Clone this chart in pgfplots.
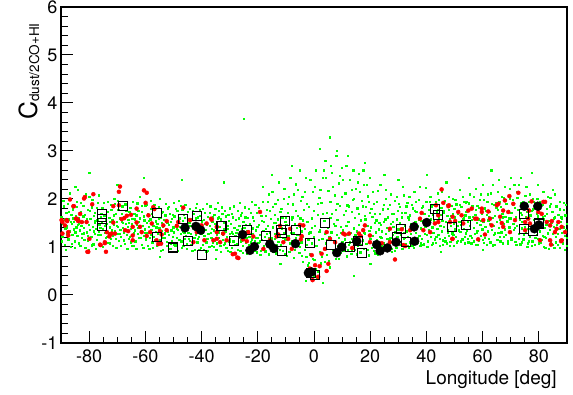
\documentclass[border=0pt]{standalone}
\usepackage{pgfplots}
\pgfplotsset{compat=1.18}
\usepackage{fontspec}
\setmainfont{TeX Gyre Heros}
\begin{document}
\begin{tikzpicture}
\useasboundingbox (-61bp,-52bp) rectangle (512bp,343bp);
\begin{axis}[
 scale only axis, width=506bp, height=336bp,
 at={(0,0)}, anchor=south west,
 xmin=-90, xmax=90, ymin=-1, ymax=6,
 xtick={-80,-60,...,80}, ytick={-1,0,...,6},
 minor x tick num=3, minor y tick num=4,
 tick align=inside, tick pos=left,
 major tick length=12bp, minor tick length=6.5bp,
 axis line style={line width=1.6bp},
 every tick/.style={black, line width=1bp},
 tick label style={font=\fontsize{18bp}{21bp}\selectfont},
 /pgf/number format/assume math mode=true,
 xticklabel style={yshift=-3bp},
 xlabel={Longitude [deg]},
 every axis x label/.style={at={(axis description cs:0.98,-0.083)}, anchor=north east, inner sep=0pt, font=\fontsize{19bp}{22bp}\selectfont},
 ylabel={\fontsize{25bp}{28bp}\selectfont C\fontsize{13.5bp}{15bp}\selectfont\raisebox{-2bp}{dust/2CO+HI}},
 every axis y label/.style={at={(axis description cs:-0.047,0.952)}, rotate=90, anchor=base east, inner sep=0pt},
]
% diffuse component (green)
\addplot[only marks, mark=square*, mark size=0.65bp, color=green, mark options={draw=none}] coordinates {
(-89.9,1.62)(-89.6,1.21)(-89.3,1.48)(-89.0,1.85)(-88.8,1.05)(-88.5,1.39)(-88.3,1.55)(-88.1,1.72)(-88.0,1.30)
(-87.9,1.44)(-87.7,1.90)(-87.4,1.16)(-87.2,1.58)(-86.9,1.33)(-86.6,1.01)(-86.4,1.67)(-86.2,1.49)(-86.0,1.26)
(-85.9,1.79)(-85.6,1.37)(-85.4,1.53)(-85.1,1.12)(-84.8,1.64)(-84.6,1.41)(-84.4,1.95)(-84.2,1.23)(-84.0,1.47)
(-83.8,1.08)(-83.6,1.60)(-83.3,1.35)(-83.1,1.74)(-82.8,1.45)(-82.6,1.19)(-82.3,1.52)(-82.1,1.86)(-82.0,1.29)
(-81.9,1.40)(-81.6,1.68)(-81.4,0.98)(-81.2,1.55)(-80.9,1.31)(-80.6,1.77)(-80.4,1.14)(-80.2,1.46)(-80.0,2.05)
(-79.8,1.36)(-79.6,1.59)(-79.3,1.22)(-79.1,1.83)(-78.8,1.43)(-78.5,1.06)(-78.3,1.65)(-78.1,1.50)(-78.0,1.28)
(-77.9,1.71)(-77.6,1.38)(-77.3,1.15)(-77.1,1.56)(-76.9,1.92)(-76.6,1.33)(-76.4,1.47)(-76.2,1.02)(-76.0,1.62)
(-75.8,1.25)(-75.5,1.53)(-75.3,1.81)(-75.1,1.37)(-74.8,1.11)(-74.6,1.66)(-74.3,1.44)(-74.1,1.20)(-74.0,1.58)
(-73.9,1.49)(-73.6,1.09)(-73.4,1.73)(-73.2,1.30)(-72.9,1.61)(-72.7,1.41)(-72.4,1.88)(-72.2,1.18)(-72.0,1.35)
(-71.8,1.57)(-71.6,1.24)(-71.3,1.46)(-71.1,2.01)(-70.8,1.34)(-70.6,1.69)(-70.4,0.99)(-70.2,1.52)(-70.0,1.27)
(-69.9,1.43)(-69.7,1.78)(-69.4,1.13)(-69.2,1.60)(-68.9,1.36)(-68.7,1.21)(-68.4,1.54)(-68.2,1.85)(-68.0,1.40)
(-67.8,1.31)(-67.5,1.63)(-67.3,1.07)(-67.1,1.48)(-66.8,1.75)(-66.6,1.26)(-66.3,1.42)(-66.1,1.57)(-66.0,1.17)
(-65.9,1.50)(-65.6,1.22)(-65.4,1.82)(-65.2,1.38)(-64.9,1.03)(-64.7,1.59)(-64.4,1.45)(-64.2,1.29)(-64.0,1.70)
(-63.8,1.35)(-63.6,1.12)(-63.3,1.66)(-63.1,1.47)(-62.9,1.91)(-62.6,1.28)(-62.4,1.53)(-62.2,1.19)(-62.0,1.41)
(-61.9,1.60)(-61.7,1.33)(-61.4,1.05)(-61.2,1.74)(-60.9,1.44)(-60.7,1.24)(-60.4,1.56)(-60.2,1.37)(-60.0,1.87)
(-59.8,1.16)(-59.6,1.51)(-59.3,1.30)(-59.1,1.69)(-58.8,1.42)(-58.6,0.97)(-58.3,1.58)(-58.1,1.25)(-58.0,1.80)
(-57.9,1.36)(-57.6,1.10)(-57.4,1.63)(-57.2,1.45)(-56.9,1.21)(-56.6,1.77)(-56.4,1.32)(-56.2,1.54)(-56.0,1.02)
(-55.8,1.48)(-55.5,1.27)(-55.3,1.84)(-55.1,1.39)(-54.8,1.14)(-54.6,1.61)(-54.4,1.34)(-54.1,1.72)(-54.0,1.19)
(-53.9,1.43)(-53.7,0.94)(-53.4,1.57)(-53.2,1.29)(-52.9,1.66)(-52.7,1.38)(-52.4,1.11)(-52.2,1.50)(-52.0,1.81)
(-51.8,1.25)(-51.6,1.46)(-51.3,1.70)(-51.1,1.08)(-50.8,1.35)(-50.6,1.59)(-50.3,1.22)(-50.1,1.41)(-50.0,1.93)
(-49.9,1.31)(-49.7,1.64)(-49.4,1.04)(-49.2,1.47)(-48.9,1.20)(-48.7,1.75)(-48.4,1.36)(-48.2,1.53)(-48.0,1.15)
(-47.8,1.42)(-47.5,1.28)(-47.3,1.86)(-47.1,0.99)(-46.8,1.55)(-46.6,1.33)(-46.3,1.67)(-46.1,1.18)(-46.0,1.45)
(-45.9,1.61)(-45.6,1.24)(-45.4,1.39)(-45.2,1.07)(-44.9,1.73)(-44.7,1.30)(-44.4,1.50)(-44.2,1.13)(-44.0,1.44)
(-43.8,1.27)(-43.6,1.58)(-43.3,0.92)(-43.1,1.41)(-42.9,1.69)(-42.6,1.19)(-42.4,1.36)(-42.2,1.82)(-42.0,1.25)
(-41.9,1.48)(-41.6,1.10)(-41.4,1.62)(-41.2,1.34)(-40.9,1.21)(-40.7,1.77)(-40.4,1.40)(-40.2,0.98)(-40.0,1.54)
(-39.8,1.32)(-39.6,1.05)(-39.3,1.57)(-39.1,1.23)(-38.8,1.71)(-38.5,1.36)(-38.3,0.90)(-38.1,1.46)(-38.0,1.17)
(-37.9,1.63)(-37.6,1.28)(-37.3,1.01)(-37.1,1.44)(-36.9,1.85)(-36.6,1.19)(-36.4,1.38)(-36.2,1.53)(-36.0,1.09)
(-35.8,1.35)(-35.5,1.67)(-35.3,1.14)(-35.1,1.49)(-34.8,0.95)(-34.6,1.26)(-34.3,1.60)(-34.1,1.31)(-34.0,1.76)
(-33.9,1.20)(-33.7,1.42)(-33.4,1.03)(-33.2,1.58)(-32.9,1.29)(-32.7,1.70)(-32.4,1.15)(-32.2,1.37)(-32.0,1.51)
(-31.8,1.08)(-31.6,1.33)(-31.3,1.64)(-31.1,1.22)(-30.8,1.45)(-30.6,0.93)(-30.3,1.55)(-30.1,1.27)(-30.0,1.81)
(-29.9,1.18)(-29.7,1.49)(-29.4,0.98)(-29.2,1.31)(-28.9,1.62)(-28.7,1.12)(-28.4,1.40)(-28.2,0.88)(-28.0,1.24)
(-27.8,1.57)(-27.5,1.06)(-27.3,1.36)(-27.1,1.75)(-26.8,1.19)(-26.6,1.44)(-26.3,0.92)(-26.1,1.29)(-26.0,1.66)
(-25.9,1.14)(-25.6,1.38)(-25.4,1.02)(-25.2,1.53)(-24.9,1.25)(-24.7,1.83)(-24.4,1.10)(-24.2,1.46)(-24.0,0.86)
(-23.8,1.33)(-23.6,1.61)(-23.3,1.05)(-23.1,1.21)(-22.9,1.48)(-22.6,0.95)(-22.4,1.72)(-22.2,1.16)(-22.0,1.39)
(-21.9,1.27)(-21.7,1.01)(-21.4,1.55)(-21.2,1.13)(-20.9,1.88)(-20.7,1.35)(-20.4,0.89)(-20.2,1.43)(-20.0,1.20)
(-19.8,1.09)(-19.6,1.47)(-19.3,1.26)(-19.1,0.84)(-18.8,1.65)(-18.6,1.15)(-18.3,1.94)(-18.1,1.34)(-18.0,1.03)
(-17.9,1.52)(-17.6,1.22)(-17.4,0.91)(-17.2,1.38)(-16.9,1.77)(-16.6,1.07)(-16.4,1.45)(-16.2,1.19)(-16.0,2.10)
(-15.8,1.31)(-15.5,0.96)(-15.3,1.59)(-15.1,1.14)(-14.8,1.41)(-14.6,1.84)(-14.4,1.02)(-14.1,1.28)(-14.0,1.68)
(-13.9,1.17)(-13.7,1.50)(-13.4,0.87)(-13.2,1.36)(-12.9,1.99)(-12.7,1.11)(-12.4,1.44)(-12.2,1.24)(-12.0,1.73)
(-11.8,1.05)(-11.6,1.39)(-11.3,1.62)(-11.1,0.93)(-10.8,1.29)(-10.6,2.22)(-10.4,1.16)(-10.2,1.53)(-10.0,1.34)
(-9.9,1.47)(-9.7,0.82)(-9.4,1.71)(-9.2,1.23)(-8.9,2.05)(-8.7,1.08)(-8.4,1.36)(-8.2,0.97)(-8.0,1.58)
(-7.9,1.12)(-7.6,1.89)(-7.4,1.30)(-7.2,0.78)(-6.9,1.49)(-6.6,1.19)(-6.4,2.31)(-6.2,1.40)(-6.0,1.02)
(-5.8,1.65)(-5.5,1.25)(-5.3,0.88)(-5.1,1.43)(-4.8,1.97)(-4.6,1.10)(-4.4,1.33)(-4.1,0.70)(-4.0,1.56)
(-3.9,1.21)(-3.7,1.78)(-3.4,0.95)(-3.2,1.38)(-2.9,2.44)(-2.7,1.05)(-2.4,1.52)(-2.2,0.62)(-2.0,1.29)
(-1.9,1.84)(-1.6,0.85)(-1.4,1.31)(-1.2,0.52)(-0.9,1.60)(-0.7,1.08)(-0.4,2.15)(-0.2,0.41)(0.0,1.22)
(0.1,0.73)(0.3,1.45)(0.6,2.60)(0.8,1.02)(1.1,0.35)(1.3,1.68)(1.6,1.15)(1.8,2.02)(2.0,0.90)
(2.1,1.36)(2.4,0.66)(2.6,1.93)(2.9,1.18)(3.1,2.45)(3.4,0.97)(3.6,1.55)(3.8,1.27)(4.0,2.80)
(4.1,1.08)(4.4,1.72)(4.6,0.84)(4.9,1.40)(5.1,2.18)(5.4,1.22)(5.6,0.58)(5.8,1.61)(6.0,1.94)
(6.1,1.31)(6.4,2.55)(6.6,0.95)(6.9,1.49)(7.1,1.13)(7.4,2.08)(7.6,0.76)(7.8,1.78)(8.0,1.25)
(8.2,1.57)(8.4,1.03)(8.7,2.33)(8.9,1.20)(9.2,1.86)(9.4,0.88)(9.6,1.42)(9.8,2.65)(10.0,1.11)
(10.1,1.35)(10.4,0.92)(10.6,1.68)(10.9,1.16)(11.1,2.12)(11.4,1.44)(11.6,0.81)(11.8,1.87)(12.0,1.26)
(12.2,1.52)(12.4,1.05)(12.7,2.40)(12.9,1.30)(13.2,0.86)(13.4,1.74)(13.6,1.18)(13.8,1.99)(14.0,1.39)
(14.1,1.12)(14.4,1.61)(14.6,0.94)(14.9,2.21)(15.1,1.33)(15.4,1.81)(15.6,1.02)(15.8,1.47)(16.0,2.52)
(16.2,1.23)(16.4,0.89)(16.7,1.56)(16.9,1.97)(17.2,1.14)(17.4,1.38)(17.6,2.30)(17.8,0.97)(18.0,1.65)
(18.1,1.29)(18.4,1.84)(18.6,1.07)(18.9,1.45)(19.1,2.06)(19.4,0.83)(19.6,1.34)(19.8,1.72)(20.0,1.18)
(20.2,1.41)(20.4,0.99)(20.7,1.63)(20.9,1.24)(21.2,1.90)(21.4,1.10)(21.6,1.50)(21.8,0.87)(22.0,1.32)
(22.1,1.56)(22.4,1.15)(22.6,2.17)(22.9,1.37)(23.1,0.92)(23.4,1.69)(23.6,1.21)(23.8,1.46)(24.0,1.04)
(24.2,1.33)(24.4,1.79)(24.7,1.08)(24.9,1.52)(25.2,0.95)(25.4,1.27)(25.6,2.01)(25.8,1.40)(26.0,1.17)
(26.1,1.62)(26.4,1.01)(26.6,1.35)(26.9,1.88)(27.1,1.19)(27.4,1.48)(27.6,0.90)(27.8,1.70)(28.0,1.26)
(28.2,1.43)(28.4,1.11)(28.7,1.97)(28.9,1.31)(29.2,0.98)(29.4,1.58)(29.6,1.22)(29.8,1.76)(30.0,1.37)
(30.1,1.09)(30.4,1.51)(30.6,1.84)(30.9,1.25)(31.1,1.62)(31.4,0.96)(31.6,1.40)(31.8,2.08)(32.0,1.18)
(32.2,1.45)(32.4,1.71)(32.7,1.06)(32.9,1.33)(33.2,1.93)(33.4,1.21)(33.6,1.57)(33.8,0.99)(34.0,1.38)
(34.1,1.66)(34.4,1.27)(34.6,1.49)(34.9,1.03)(35.1,1.81)(35.4,1.36)(35.6,2.15)(35.8,1.14)(36.0,1.53)
(36.2,1.30)(36.4,1.74)(36.7,1.10)(36.9,1.44)(37.2,1.99)(37.4,1.23)(37.6,1.60)(37.8,1.02)(38.0,1.39)
(38.1,1.55)(38.4,1.17)(38.6,1.85)(38.9,1.34)(39.1,1.06)(39.4,1.69)(39.6,1.42)(39.8,2.24)(40.0,1.26)
(40.2,1.48)(40.4,1.12)(40.7,1.77)(40.9,1.36)(41.2,1.95)(41.4,1.21)(41.6,1.58)(41.8,1.05)(42.0,1.41)
(42.1,1.67)(42.4,1.30)(42.6,1.88)(42.9,1.16)(43.1,1.50)(43.4,1.09)(43.6,1.73)(43.8,1.38)(44.0,2.12)
(44.2,1.26)(44.4,1.61)(44.7,1.03)(44.9,1.45)(45.2,1.82)(45.4,1.33)(45.6,1.55)(45.8,1.14)(46.0,1.71)
(46.1,1.42)(46.4,1.19)(46.6,1.97)(46.9,1.52)(47.1,1.08)(47.4,1.65)(47.6,1.35)(47.8,1.78)(48.0,1.24)
(48.2,1.58)(48.4,1.11)(48.7,1.44)(48.9,1.86)(49.2,1.29)(49.4,1.70)(49.6,1.02)(49.8,1.49)(50.0,1.37)
(50.1,1.62)(50.4,1.21)(50.6,1.89)(50.9,1.45)(51.1,1.13)(51.4,1.75)(51.6,1.53)(51.8,2.20)(52.0,1.32)
(52.2,1.47)(52.4,1.84)(52.7,1.16)(52.9,1.59)(53.2,1.38)(53.4,1.95)(53.6,1.08)(53.8,1.66)(54.0,1.29)
(54.1,1.73)(54.4,1.35)(54.6,1.52)(54.9,1.10)(55.1,1.91)(55.4,1.44)(55.6,1.24)(55.8,1.80)(56.0,1.57)
(56.2,1.19)(56.4,1.63)(56.7,2.05)(56.9,1.40)(57.2,1.28)(57.4,1.77)(57.6,1.05)(57.8,1.50)(58.0,1.86)
(58.1,1.34)(58.4,1.58)(58.6,1.14)(58.9,1.98)(59.1,1.46)(59.4,1.23)(59.6,1.69)(59.8,1.37)(60.0,2.30)
(60.2,1.52)(60.4,1.09)(60.7,1.81)(60.9,1.42)(61.2,1.26)(61.4,1.67)(61.6,1.95)(61.8,1.33)(62.0,1.56)
(62.1,1.18)(62.4,1.74)(62.6,1.48)(62.9,2.12)(63.1,1.36)(63.4,1.61)(63.6,1.04)(63.8,1.88)(64.0,1.44)
(64.2,1.65)(64.4,1.29)(64.7,1.92)(64.9,1.53)(65.2,1.15)(65.4,1.78)(65.6,1.40)(65.8,2.40)(66.0,1.22)
(66.1,1.57)(66.4,1.84)(66.6,1.31)(66.9,1.70)(67.1,1.08)(67.4,1.49)(67.6,2.02)(67.8,1.37)(68.0,1.63)
(68.2,1.25)(68.4,1.90)(68.7,1.54)(68.9,1.13)(69.2,1.76)(69.4,1.41)(69.6,2.22)(69.8,1.60)(70.0,1.32)
(70.1,1.71)(70.4,1.20)(70.6,1.98)(70.9,1.49)(71.1,1.36)(71.4,1.82)(71.6,1.11)(71.8,1.62)(72.0,2.15)
(72.2,1.45)(72.4,1.77)(72.7,1.27)(72.9,2.30)(73.2,1.58)(73.4,1.06)(73.6,1.91)(73.8,1.39)(74.0,1.68)
(74.1,1.53)(74.4,1.16)(74.6,1.85)(74.9,1.42)(75.1,2.07)(75.4,1.30)(75.6,1.73)(75.8,1.01)(76.0,1.60)
(76.2,1.38)(76.4,1.94)(76.7,1.22)(76.9,1.66)(77.2,1.48)(77.4,2.55)(77.6,1.12)(77.8,1.79)(78.0,1.35)
(78.1,1.57)(78.4,1.05)(78.6,1.83)(78.9,1.43)(79.1,1.26)(79.4,2.00)(79.6,1.64)(79.8,1.18)(80.0,1.50)
(80.2,1.33)(80.4,1.72)(80.7,1.09)(80.9,1.49)(81.2,1.88)(81.4,1.24)(81.6,1.58)(81.8,1.00)(82.0,1.40)
(82.1,1.65)(82.4,1.19)(82.6,1.46)(82.9,1.80)(83.1,1.29)(83.4,0.96)(83.6,1.55)(83.8,1.36)(84.0,2.02)
(84.2,1.12)(84.4,1.51)(84.7,1.74)(84.9,1.27)(85.2,1.43)(85.4,0.99)(85.6,1.62)(85.8,1.34)(86.0,1.86)
(86.1,1.21)(86.4,1.47)(86.7,1.05)(86.9,1.68)(87.2,1.38)(87.4,1.79)(87.6,1.15)(87.8,1.53)(88.0,1.30)
(88.2,1.59)(88.4,1.08)(88.7,1.41)(88.9,1.93)(89.2,1.24)(89.4,1.66)(89.6,1.36)(89.8,1.02)(89.9,1.48)
(-25.0,3.67)(5.7,3.29)(-60.5,2.45)(-80.0,2.55)(-85.0,2.25)(12.0,2.90)(2.0,3.05)(18.0,2.75)(-5.0,2.60)
(63.0,2.60)(70.0,2.45)(-32.0,2.35)(-47.0,2.40)(30.0,2.40)(47.0,2.35)(-15.0,2.50)(25.0,2.50)(8.0,3.00)
(-8.0,2.70)(85.0,2.20)(55.0,2.45)(40.0,2.50)(-70.0,2.30)(14.0,0.40)(-3.0,0.30)(3.0,0.25)(-12.0,0.65)
(20.0,0.65)(-35.0,0.75)(45.0,0.90)(60.0,0.95)(-55.0,0.80)
(-89.7,1.12)(-89.2,1.97)(-88.7,1.58)(-88.4,0.95)(-88.05,1.41)(-87.8,1.28)(-87.3,1.73)(-86.8,2.12)(-86.5,1.52)(-86.1,1.07)
(-85.7,1.60)(-85.2,0.99)(-84.9,1.31)(-84.5,1.84)(-84.1,2.20)(-83.7,1.49)(-83.2,1.02)(-82.9,1.93)(-82.5,1.27)(-82.15,1.64)
(-81.7,1.15)(-81.3,2.10)(-80.8,1.58)(-80.5,1.24)(-80.1,0.95)(-79.7,1.75)(-79.2,1.04)(-78.9,1.98)(-78.4,1.33)(-78.05,1.55)
(-77.7,0.97)(-77.2,1.82)(-76.8,1.26)(-76.5,2.08)(-76.1,1.40)(-75.7,1.70)(-75.2,1.00)(-74.9,1.93)(-74.5,1.30)(-74.15,1.47)
(-73.7,1.22)(-73.3,1.95)(-72.8,1.08)(-72.5,1.52)(-72.1,1.78)(-71.7,1.02)(-71.2,1.66)(-70.9,1.90)(-70.5,1.18)(-70.1,1.44)
(-69.8,1.96)(-69.3,1.27)(-68.8,1.03)(-68.5,1.70)(-68.1,1.50)(-67.7,1.14)(-67.2,1.89)(-66.9,1.36)(-66.5,0.96)(-66.2,1.67)
(-65.7,1.74)(-65.3,1.10)(-64.8,1.48)(-64.5,1.94)(-64.1,1.02)(-63.7,1.58)(-63.2,0.97)(-62.8,1.40)(-62.5,1.76)(-62.1,2.05)
(-61.8,1.19)(-61.3,1.86)(-60.8,0.98)(-60.5,1.64)(-60.1,1.30)(-59.7,1.88)(-59.2,1.03)(-58.9,1.55)(-58.4,1.20)(-58.05,1.97)
(-57.7,1.69)(-57.3,0.99)(-56.8,1.88)(-56.5,1.14)(-56.1,1.41)(-55.7,1.06)(-55.2,1.60)(-54.9,2.00)(-54.5,0.92)(-54.2,1.50)
(-53.8,1.73)(-53.3,1.19)(-52.8,1.90)(-52.5,1.02)(-52.1,1.33)(-51.7,1.84)(-51.2,0.97)(-50.9,1.52)(-50.5,1.12)(-50.2,1.68)
(-49.8,1.06)(-49.3,1.80)(-48.8,1.39)(-48.5,0.93)(-48.1,1.96)(-47.7,1.60)(-47.2,1.12)(-46.9,1.78)(-46.5,1.02)(-46.2,1.30)
(-45.8,1.88)(-45.3,0.96)(-44.8,1.58)(-44.5,1.18)(-44.1,1.80)(-43.7,1.05)(-43.2,1.75)(-42.8,1.48)(-42.5,0.95)(-42.1,1.60)
(-41.7,1.90)(-41.3,1.17)(-40.8,0.94)(-40.5,1.65)(-40.1,1.28)(-39.7,1.80)(-39.2,0.95)(-38.9,1.48)(-38.4,1.10)(-38.05,1.90)
(-37.7,0.93)(-37.2,1.72)(-36.8,1.30)(-36.5,1.02)(-36.1,1.62)(-35.7,1.00)(-35.2,1.80)(-34.9,1.40)(-34.5,1.08)(-34.2,1.92)
(-33.8,1.62)(-33.3,0.90)(-32.8,1.83)(-32.5,1.25)(-32.1,1.05)(-31.7,1.75)(-31.2,0.98)(-30.9,1.38)(-30.5,1.68)(-30.2,1.12)
(-29.8,0.90)(-29.3,1.70)(-28.8,1.28)(-28.5,1.85)(-28.1,1.05)(-27.7,1.30)(-27.2,0.94)(-26.9,1.60)(-26.5,1.92)(-26.2,1.12)
(-25.8,1.72)(-25.3,0.88)(-24.8,1.40)(-24.5,1.62)(-24.1,1.20)(-23.7,0.92)(-23.2,1.80)(-22.8,1.27)(-22.5,1.10)(-22.1,1.95)
(-21.8,1.62)(-21.3,0.93)(-20.8,1.20)(-20.5,1.72)(-20.1,1.00)(-19.7,1.82)(-19.2,1.12)(-18.9,0.92)(-18.5,1.55)(-18.2,2.25)
(-17.8,0.98)(-17.3,1.65)(-16.8,1.28)(-16.5,1.95)(-16.1,0.85)(-15.7,1.75)(-15.2,1.20)(-14.9,2.15)(-14.5,0.90)(-14.2,1.50)
(-13.8,1.90)(-13.3,1.05)(-12.8,1.58)(-12.5,2.35)(-12.1,0.95)(-11.7,1.80)(-11.2,1.20)(-10.9,2.00)(-10.5,0.85)(-10.1,1.62)
(-9.8,1.15)(-9.3,1.90)(-8.8,0.90)(-8.5,2.45)(-8.1,1.30)(-7.8,1.62)(-7.3,2.10)(-6.8,0.95)(-6.5,1.75)(-6.1,1.25)
(-5.7,2.20)(-5.2,1.00)(-4.9,1.60)(-4.5,0.82)(-4.2,2.05)(-3.8,1.45)(-3.3,2.15)(-2.8,0.80)(-2.5,1.90)(-2.1,1.15)
(-1.8,0.68)(-1.3,2.40)(-0.8,1.40)(-0.5,0.75)(-0.1,1.75)(0.2,2.25)(0.7,0.55)(1.2,1.90)(1.5,0.48)(1.9,1.32)
(2.2,2.20)(2.7,0.80)(3.2,1.70)(3.5,2.60)(3.9,0.70)(4.2,2.45)(4.7,1.15)(5.2,0.72)(5.5,1.95)(5.9,2.70)
(6.2,1.70)(6.7,2.25)(7.2,0.88)(7.5,1.45)(7.9,2.90)(8.3,1.90)(8.8,0.75)(9.1,2.48)(9.5,1.30)(9.9,2.05)
(10.2,2.40)(10.7,1.05)(11.2,1.75)(11.5,2.70)(11.9,0.95)(12.3,1.85)(12.8,1.10)(13.3,2.20)(13.5,0.95)(13.9,2.60)
(14.2,2.00)(14.7,1.25)(15.2,0.85)(15.5,2.35)(15.9,1.70)(16.3,2.15)(16.8,1.05)(17.3,1.85)(17.5,2.60)(17.9,1.30)
(18.2,1.58)(18.7,2.30)(19.2,0.95)(19.5,1.95)(19.9,2.45)(20.3,1.80)(20.8,2.15)(21.3,0.93)(21.5,1.70)(21.9,1.30)
(22.2,1.95)(22.7,0.85)(23.2,1.50)(23.5,2.30)(23.9,1.20)(24.3,1.00)(24.8,1.88)(25.3,1.58)(25.5,2.20)(25.9,0.92)
(26.2,1.80)(26.7,1.15)(27.2,2.10)(27.5,0.96)(27.9,1.52)(28.3,1.70)(28.8,0.92)(29.3,2.05)(29.5,1.38)(29.9,1.10)
(30.2,1.90)(30.7,1.05)(31.2,1.72)(31.5,2.25)(31.9,1.30)(32.3,1.20)(32.8,1.85)(33.3,1.02)(33.5,1.62)(33.9,2.05)
(34.2,1.10)(34.7,1.88)(35.2,1.48)(35.5,0.98)(35.9,1.75)(36.3,1.95)(36.8,1.20)(37.3,1.58)(37.5,2.25)(37.9,1.08)
(38.2,1.82)(38.7,1.05)(39.2,1.70)(39.5,1.28)(39.9,1.95)(40.3,1.00)(40.8,1.65)(41.3,2.05)(41.5,1.30)(41.9,1.85)
(42.2,1.08)(42.7,1.55)(43.2,1.95)(43.5,1.22)(43.9,1.78)(44.3,1.98)(44.8,1.18)(45.3,1.68)(45.5,2.15)(45.9,1.05)
(46.2,1.75)(46.7,1.12)(47.2,1.88)(47.5,1.30)(47.9,2.05)(48.3,1.02)(48.8,1.65)(49.3,2.00)(49.5,1.25)(49.9,1.80)
(50.2,1.98)(50.7,1.10)(51.2,1.70)(51.5,1.35)(51.9,1.88)(52.3,1.12)(52.8,2.05)(53.3,1.60)(53.5,1.22)(53.9,1.92)
(54.2,1.95)(54.7,1.18)(55.2,1.62)(55.5,2.10)(55.9,1.08)(56.3,1.85)(56.8,1.12)(57.3,1.68)(57.5,2.22)(57.9,1.30)
(58.2,1.05)(58.7,1.82)(59.2,2.10)(59.5,1.55)(59.9,1.15)(60.3,1.98)(60.8,1.20)(61.3,1.75)(61.5,1.05)(61.9,2.10)
(62.2,1.62)(62.7,1.10)(63.2,1.90)(63.5,2.30)(63.9,1.25)(64.3,1.05)(64.8,1.82)(65.3,2.15)(65.5,1.30)(65.9,1.95)
(66.2,1.12)(66.7,2.05)(67.2,1.62)(67.5,1.22)(67.9,2.25)(68.3,1.98)(68.8,1.08)(69.3,1.60)(69.5,2.00)(69.9,1.20)
(70.2,1.15)(70.7,1.88)(71.2,2.30)(71.5,1.40)(71.9,1.05)(72.3,2.02)(72.8,1.18)(73.3,1.72)(73.5,2.45)(73.9,1.10)
(74.2,1.95)(74.7,1.25)(75.2,1.62)(75.5,2.25)(75.9,1.08)(76.3,1.12)(76.8,2.10)(77.3,1.75)(77.5,1.02)(77.9,2.00)
(78.2,1.95)(78.7,1.20)(79.2,1.70)(79.5,2.30)(79.9,1.08)(80.3,1.95)(80.8,1.15)(81.3,1.62)(81.5,2.15)(81.9,1.22)
(82.2,0.98)(82.7,1.70)(83.2,2.05)(83.5,1.15)(83.9,1.85)(84.3,1.90)(84.8,1.05)(85.3,1.60)(85.5,2.10)(85.9,1.10)
(86.2,1.85)(86.7,1.28)(87.3,0.98)(87.5,1.95)(87.9,1.62)(88.3,1.15)(88.8,1.78)(89.3,0.95)(89.5,1.88)(89.95,1.20)
};
% red points
\addplot[only marks, mark=*, mark size=2bp, color=red, mark options={fill=red, draw=none}] coordinates {
(-69.0,2.26)(-60.5,2.18)(-59.5,2.13)(-81.5,2.04)(-81.8,2.01)(-78.5,2.10)(-86.8,1.99)(-85.4,1.85)(-78.9,1.89)
(-71.4,1.85)(-69.4,1.87)(-63.1,1.80)(-59.9,1.92)(-57.2,1.83)(-56.8,1.79)(-46.5,1.82)(-83.2,1.69)(-65.1,1.67)
(-66.6,1.65)(-58.9,1.66)(-67.5,1.60)(-68.4,1.58)(-84.7,1.59)(-83.9,1.56)(-88.0,1.56)(-89.5,1.52)(-82.6,1.52)
(-80.9,1.52)(-71.4,1.51)(-63.1,1.51)(-57.7,1.49)(-52.4,1.54)(-48.3,1.52)(-88.6,1.45)(-64.5,1.42)(-61.9,1.42)
(-53.6,1.45)(-48.8,1.44)(-52.4,1.35)(-67.2,1.35)(-73.7,1.31)(-66.1,1.33)(-61.3,1.31)(-58.3,1.31)(-54.8,1.33)
(-54.2,1.26)(-89.5,1.28)(-87.4,1.31)(-72.6,1.26)(-70.8,1.28)(-64.5,1.24)(-59.5,1.23)(-79.9,1.17)(-64.5,1.14)
(-56.0,1.14)(-76.1,1.05)(-74.4,1.08)(-55.4,1.06)(-80.3,0.90)(-74.0,0.90)
(-36.6,1.59)(-28.9,0.85)(-27.3,0.78)(-19.2,1.73)(-12.1,1.44)(-38.2,1.49)(-34.6,1.31)(-32.3,1.28)(-25.2,1.16)
(-21.6,1.22)(-10.9,1.10)(-8.5,1.38)(-4.7,1.16)(-3.8,1.45)(-44.1,1.56)(-41.7,1.31)(-40.0,1.45)(-35.8,1.14)
(-33.4,1.10)(-23.4,1.31)(-15.7,1.14)(-12.7,1.26)(-42.9,1.10)(-54.4,1.07)
(-36.4,1.57)(-5.0,1.46)(-28.1,0.86)(-26.9,0.77)(-39.0,1.14)(-34.6,1.17)(-31.1,1.14)(-23.9,1.12)(-18.0,0.96)
(-13.3,1.22)(-7.9,0.96)(-4.4,1.23)(-0.8,0.83)(-0.5,0.31)(-9.2,1.17)(-34.6,1.42)
(2.0,0.60)(1.5,0.38)(-1.5,0.55)(4.5,0.50)
(28.8,0.74)(0.4,0.62)(2.7,0.86)(5.1,0.65)(4.5,1.31)(10.4,1.28)(12.5,1.28)(16.0,1.28)(17.5,1.35)
(19.9,1.24)(18.1,1.45)(27.0,1.10)(31.2,1.37)(32.4,1.02)(34.2,1.35)(38.9,1.35)(41.3,1.31)(37.7,1.59)
(44.2,1.66)(43.4,1.87)(7.5,1.10)(13.6,0.98)(14.6,1.14)(3.9,0.96)
(5.7,1.17)(11.0,1.26)(15.2,1.14)(16.6,1.23)(19.9,1.10)(24.1,1.08)(27.0,1.38)(31.8,1.04)(45.4,2.20)
(47.8,1.85)(46.0,1.92)(38.3,1.71)(43.0,1.49)(49.3,1.17)(49.3,1.63)(53.1,1.49)(56.1,1.80)(59.7,1.73)
(62.6,1.59)(65.6,1.90)(67.9,1.97)(69.5,2.06)(72.7,2.13)(67.3,1.76)(57.9,1.59)(60.8,1.26)(67.3,1.42)
(69.7,1.31)(75.1,1.35)(81.6,1.94)(82.8,1.52)(84.0,1.14)(86.3,1.38)(88.1,1.14)(79.8,1.73)(80.4,1.14)(76.2,1.59)
(48.0,1.87)(51.3,1.73)(54.9,1.76)(59.7,1.80)(62.0,1.74)(65.0,1.87)(70.9,1.90)(76.5,1.76)(82.2,1.94)
(81.0,1.69)(84.6,1.54)(86.9,1.52)(88.1,1.42)(89.3,1.31)(84.0,1.45)(85.7,1.31)(84.3,1.05)(87.9,1.12)
(58.4,1.16)(49.2,1.17)(50.2,1.54)(57.3,1.59)(60.2,1.56)(66.2,1.63)(69.1,1.73)(63.2,1.45)(71.5,1.56)
(75.1,1.52)(76.8,1.49)(48.4,1.52)(44.2,1.52)(52.5,1.66)(77.4,1.95)(66.8,1.50)
(-85.6,1.85)(-89.8,1.56)(-87.8,1.54)(-84.4,1.59)(-83.9,1.54)(-87.4,1.24)(-80.6,0.90)(-75.9,1.04)(-74.4,1.10)
(-72.8,1.22)(-72.0,1.28)(-69.4,2.15)
};
% open squares
\addplot[only marks, mark=square, mark size=4.5bp, color=black, mark options={line width=1.1bp}] coordinates {
(-75.5,1.68)(-75.5,1.58)(-75.5,1.43)(-67.8,1.85)(-55.7,1.71)(-55.7,1.21)(-50.1,0.99)(-46.5,1.59)
(-44.7,1.12)(-41.7,1.64)(-39.7,0.84)(-32.9,1.43)(-28.3,1.13)(-23.7,1.35)(-17.0,1.22)(-11.7,1.36)
(-10.3,1.54)(-11.5,0.92)(-6.4,1.36)(-11.3,1.29)(-1.3,1.08)(3.8,1.50)(6.0,1.05)(12.8,1.00)(15.5,1.13)
(17.0,0.88)(29.4,1.21)(30.8,1.37)(32.6,1.10)(0.4,0.42)(-1.0,0.46)(43.0,1.79)(44.0,1.66)(49.0,1.42)
(54.0,1.45)(74.8,1.69)(74.8,1.37)(78.0,1.33)(80.0,1.49)
};
% filled circles
\addplot[only marks, mark=*, mark size=4.5bp, color=black] coordinates {
(-45.9,1.40)(-42.0,1.43)(-40.3,1.35)(-25.4,1.26)(-22.8,0.93)(-21.2,1.01)(-15.7,1.06)(-14.3,0.97)
(-6.6,1.07)(-2.0,0.46)(-0.9,0.48)(8.1,0.88)(9.9,1.00)(15.2,1.12)(22.3,1.05)(23.5,0.92)(26.1,0.98)
(29.2,1.10)(35.6,1.42)(35.8,1.12)(40.1,1.51)(74.8,1.85)(79.6,1.85)(78.4,1.38)(80.0,1.46)
};
\end{axis}
\end{tikzpicture}
\end{document}
